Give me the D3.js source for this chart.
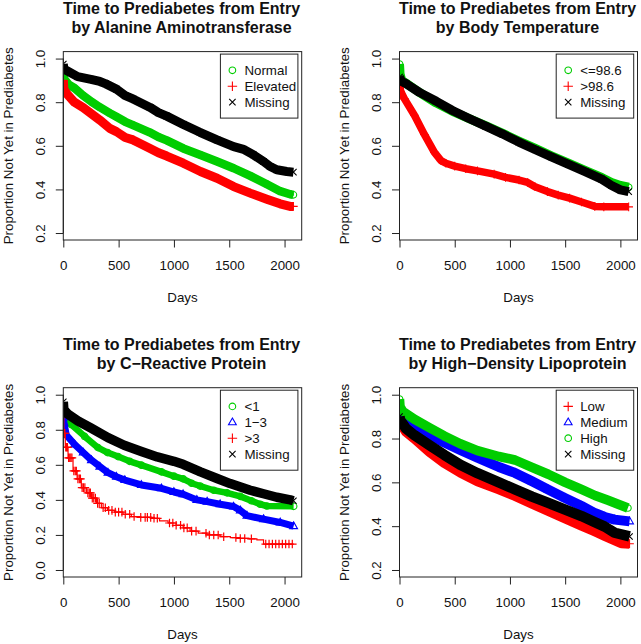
<!DOCTYPE html>
<html><head><meta charset="utf-8">
<script src="https://cdn.jsdelivr.net/npm/d3@7"></script>
<style>
body{margin:0;background:#fff}
svg{display:block}
text{font-family:"Liberation Sans",Arial,Helvetica,sans-serif;fill:#111}
</style>
</head><body>
<svg id="chart" width="641" height="644"></svg>
<script>
// ---------- tick labels ----------
const xTicks = [0, 500, 1000, 1500, 2000];
const yTicksA = [0.2, 0.4, 0.6, 0.8, 1.0];
const yTicksB = [0.0, 0.2, 0.4, 0.6, 0.8, 1.0];
const xLabel = "Days";
const yLabel = "Proportion Not Yet in Prediabetes";

// ---------- categories ----------
const altCats = ["Normal", "Elevated", "Missing"];
const tempCats = ["<=98.6", ">98.6", "Missing"];
const crpCats = ["<1", "1\u22123", ">3", "Missing"];
const hdlCats = ["Low", "Medium", "High", "Missing"];

// ---------- series values: [day, proportion] ----------
const altNormal = [[0,0.93],[10,0.905],[50,0.88],[100,0.865],[180,0.83],[260,0.80],[330,0.777],[420,0.75],[480,0.733],[560,0.71],[630,0.695],[780,0.662],[860,0.64],[935,0.625],[1085,0.588],[1240,0.558],[1390,0.528],[1540,0.497],[1690,0.462],[1840,0.424],[1960,0.392],[2050,0.378],[2080,0.375]];
const altElevated = [[0,0.90],[5,0.86],[30,0.84],[100,0.80],[180,0.775],[330,0.718],[420,0.68],[480,0.665],[560,0.638],[630,0.627],[780,0.589],[860,0.568],[935,0.553],[1085,0.52],[1240,0.482],[1390,0.451],[1540,0.413],[1690,0.383],[1840,0.355],[1960,0.334],[2050,0.322],[2080,0.322]];
const altMissing = [[0,0.975],[5,0.952],[130,0.917],[250,0.905],[330,0.895],[380,0.885],[480,0.86],[560,0.83],[630,0.815],[785,0.776],[860,0.752],[935,0.736],[1085,0.698],[1235,0.662],[1390,0.627],[1540,0.596],[1630,0.584],[1720,0.558],[1810,0.528],[1870,0.505],[1930,0.49],[2020,0.482],[2080,0.479]];

const tempLow = [[0,0.975],[5,0.93],[20,0.9],[60,0.887],[180,0.845],[330,0.797],[480,0.758],[630,0.725],[780,0.692],[930,0.658],[1080,0.622],[1230,0.588],[1380,0.553],[1530,0.52],[1680,0.487],[1830,0.455],[1920,0.432],[2000,0.418],[2075,0.41]];
const tempHigh = [[0,0.885],[10,0.85],[45,0.815],[135,0.74],[225,0.652],[316,0.57],[376,0.532],[420,0.52],[500,0.507],[600,0.495],[706,0.485],[857,0.47],[960,0.455],[1082,0.443],[1160,0.432],[1227,0.412],[1340,0.39],[1437,0.374],[1540,0.36],[1648,0.342],[1768,0.322],[1850,0.32],[2075,0.32]];
const tempMissing = [[0,0.915],[20,0.895],[60,0.885],[180,0.845],[330,0.805],[480,0.762],[630,0.725],[780,0.69],[930,0.655],[1080,0.617],[1230,0.582],[1380,0.548],[1530,0.515],[1680,0.482],[1830,0.447],[1920,0.418],[2000,0.398],[2075,0.39]];

const crpLow = [[0,0.885],[5,0.87],[72,0.83],[193,0.762],[314,0.698],[400,0.67],[495,0.647],[600,0.62],[706,0.598],[887,0.56],[1000,0.535],[1083,0.52],[1160,0.495],[1237,0.479],[1360,0.455],[1480,0.44],[1600,0.42],[1700,0.395],[1780,0.375],[1840,0.365],[2082,0.363]];
const crpMid = [[0,0.87],[5,0.84],[27,0.77],[103,0.716],[180,0.67],[254,0.627],[330,0.59],[404,0.555],[480,0.532],[556,0.513],[706,0.485],[887,0.466],[1000,0.445],[1083,0.432],[1207,0.40],[1300,0.39],[1418,0.375],[1539,0.362],[1600,0.34],[1660,0.31],[1810,0.29],[1961,0.271],[2082,0.25]];
const crpHigh = [[0,0.87],[5,0.78],[18,0.70],[43,0.64],[88,0.565],[125,0.52],[163,0.47],[210,0.44],[254,0.41],[300,0.38],[344,0.355],[400,0.34],[465,0.33],[540,0.318],[615,0.305],[700,0.3],[796,0.295],[870,0.28],[947,0.268],[1020,0.255],[1083,0.24],[1146,0.222],[1220,0.21],[1298,0.2],[1418,0.19],[1510,0.185],[1600,0.18],[1680,0.178],[1750,0.172],[1810,0.148],[2082,0.148]];
const crpHighCensor = [8,14,22,30,38,48,58,68,78,95,108,118,132,145,155,170,182,195,222,235,245,262,275,290,310,325,360,380,410,440,470,500,530,560,600,640,700,740,760,790,820,850,960,990,1020,1060,1090,1120,1160,1200,1290,1320,1360,1400,1450,1560,1600,1640,1700,1830,1860,1890,1920,1950,1980,2010,2040,2070];
const crpMissing = [[0,0.96],[5,0.915],[40,0.89],[133,0.85],[250,0.81],[404,0.755],[550,0.712],[706,0.676],[850,0.645],[1000,0.62],[1083,0.603],[1240,0.56],[1390,0.522],[1509,0.493],[1690,0.455],[1810,0.435],[1930,0.415],[2052,0.40],[2080,0.395]];

const hdlLow = [[0,0.895],[5,0.875],[60,0.83],[135,0.80],[270,0.74],[406,0.688],[550,0.645],[706,0.605],[900,0.568],[1046,0.538],[1200,0.503],[1347,0.47],[1500,0.435],[1648,0.402],[1760,0.378],[1858,0.356],[2008,0.322],[2083,0.32]];
const hdlMid = [[0,0.935],[5,0.915],[60,0.88],[135,0.856],[270,0.818],[406,0.782],[550,0.748],[706,0.713],[900,0.67],[1046,0.643],[1200,0.605],[1347,0.567],[1500,0.528],[1648,0.492],[1760,0.462],[1858,0.442],[1948,0.43],[2083,0.422]];
const hdlHigh = [[0,0.98],[5,0.945],[30,0.924],[135,0.888],[270,0.85],[406,0.812],[550,0.776],[706,0.745],[900,0.718],[1046,0.702],[1200,0.668],[1347,0.637],[1500,0.6],[1648,0.568],[1770,0.54],[1888,0.518],[1980,0.5],[2068,0.483]];
const hdlMissing = [[0,0.9],[5,0.885],[60,0.845],[135,0.815],[270,0.77],[406,0.725],[550,0.68],[706,0.642],[900,0.6],[1046,0.568],[1200,0.535],[1347,0.506],[1500,0.476],[1648,0.446],[1760,0.42],[1858,0.398],[1948,0.37],[2083,0.353]];

// ---------- styling / layout ----------
const GREEN = "#00cd00", RED = "#ff0000", BLUE = "#0000ff", BLACK = "#000000";
const XMAX = 2155;

const panels = [
  { title: ["Time to Prediabetes from Entry", "by Alanine Aminotransferase"],
    box: [63.3, 51.6, 301.7, 240], ydom: [0.168, 1.032], yticks: yTicksA,
    series: [
      { name: altCats[0], data: altNormal, color: GREEN, pch: "circle", band: 8.5 },
      { name: altCats[1], data: altElevated, color: RED, pch: "plus", band: 9 },
      { name: altCats[2], data: altMissing, color: BLACK, pch: "x", band: 9 } ] },
  { title: ["Time to Prediabetes from Entry", "by Body Temperature"],
    box: [399.5, 51.6, 637.5, 240], ydom: [0.168, 1.032], yticks: yTicksA,
    series: [
      { name: tempCats[0], data: tempLow, color: GREEN, pch: "circle", band: 9 },
      { name: tempCats[1], data: tempHigh, color: RED, pch: "plus", band: 7.5 },
      { name: tempCats[2], data: tempMissing, color: BLACK, pch: "x", band: 9 } ] },
  { title: ["Time to Prediabetes from Entry", "by C\u2212Reactive Protein"],
    box: [63.3, 387.7, 301.7, 577], ydom: [-0.04, 1.04], yticks: yTicksB,
    series: [
      { name: crpCats[0], data: crpLow, color: GREEN, pch: "circle", band: 6.5 },
      { name: crpCats[1], data: crpMid, color: BLUE, pch: "triangle", band: 7 },
      { name: crpCats[2], data: crpHigh, color: RED, pch: "plus", band: 0, censor: crpHighCensor },
      { name: crpCats[3], data: crpMissing, color: BLACK, pch: "x", band: 9.5 } ] },
  { title: ["Time to Prediabetes from Entry", "by High\u2212Density Lipoprotein"],
    box: [399.5, 387.7, 637.5, 577], ydom: [0.168, 1.032], yticks: yTicksA,
    series: [
      { name: hdlCats[0], data: hdlLow, color: RED, pch: "plus", band: 10 },
      { name: hdlCats[1], data: hdlMid, color: BLUE, pch: "triangle", band: 10 },
      { name: hdlCats[2], data: hdlHigh, color: GREEN, pch: "circle", band: 9.5 },
      { name: hdlCats[3], data: hdlMissing, color: BLACK, pch: "x", band: 10.5 } ] }
];

function symPath(pch, s) {
  s = s || 1;
  if (pch === "circle") { const r = 3.3*s; return `M${r},0A${r},${r} 0 1,1 ${-r},0A${r},${r} 0 1,1 ${r},0Z`; }
  if (pch === "triangle") { const a = 4.3*s, b = 3.9*s, c = 2.5*s; return `M0,${-a}L${b},${c}L${-b},${c}Z`; }
  if (pch === "plus") { const a = 4.3*s; return `M${-a},0H${a}M0,${-a}V${a}`; }
  const a = 3.2*s; return `M${-a},${-a}L${a},${a}M${-a},${a}L${a},${-a}`;
}

const svg = d3.select("#chart");
svg.append("rect").attr("width", 641).attr("height", 644).attr("fill", "#fff");

panels.forEach((p, pi) => {
  const [L, T, R, B] = p.box;
  const x = d3.scaleLinear().domain([0, XMAX]).range([L, R]);
  const y = d3.scaleLinear().domain(p.ydom).range([B, T]);
  const g = svg.append("g");
  const cx = (L + R) / 2;

  // titles
  g.append("text").attr("x", cx - 1).attr("y", T - 37.5).attr("text-anchor", "middle")
    .style("font-size", "16px").style("font-weight", "bold").text(p.title[0]);
  g.append("text").attr("x", cx - 1).attr("y", T - 18.5).attr("text-anchor", "middle")
    .style("font-size", "16px").style("font-weight", "bold").text(p.title[1]);

  // clip
  const cid = "clip" + pi;
  svg.append("clipPath").attr("id", cid).append("rect")
    .attr("x", L).attr("y", T).attr("width", R - L).attr("height", B - T);
  const plot = g.append("g").attr("clip-path", `url(#${cid})`);

  p.series.forEach(s => {
    if (s.band > 0) {
      const line = d3.line().x(d => x(d[0])).y(d => y(d[1]));
      plot.append("path").attr("d", line(s.data)).attr("fill", "none")
        .attr("stroke", s.color).attr("stroke-width", s.band)
        .attr("stroke-linejoin", "round").attr("stroke-linecap", "butt");
      plot.selectAll(null).data(s.data).enter().append("path")
        .attr("transform", d => `translate(${x(d[0])},${y(d[1])})`)
        .attr("d", symPath(s.pch)).attr("fill", "none").attr("stroke", s.color).attr("stroke-width", 1.1);
    } else {
      const line = d3.line().x(d => x(d[0])).y(d => y(d[1])).curve(d3.curveStepAfter);
      plot.append("path").attr("d", line(s.data)).attr("fill", "none")
        .attr("stroke", s.color).attr("stroke-width", 1.2);
      const bis = d3.bisector(d => d[0]).right;
      const valAt = t => s.data[Math.max(0, bis(s.data, t) - 1)][1];
      const marks = (s.censor || []).map(t => [t, valAt(t)]);
      plot.selectAll(null).data(marks).enter().append("path")
        .attr("transform", d => `translate(${x(d[0])},${y(d[1])})`)
        .attr("d", symPath(s.pch)).attr("fill", "none").attr("stroke", s.color).attr("stroke-width", 1.2);
    }
  });

  // box
  g.append("rect").attr("x", L).attr("y", T).attr("width", R - L).attr("height", B - T)
    .attr("fill", "none").attr("stroke", "#222").attr("stroke-width", 1);

  // x axis
  const xa = g.append("g").attr("transform", `translate(0,${B})`)
    .call(d3.axisBottom(x).tickValues(xTicks).tickSize(7.5).tickSizeOuter(0).tickFormat(d3.format("d")));
  xa.select(".domain").remove();
  xa.selectAll("line").attr("stroke", "#222");
  xa.selectAll("text").attr("dy", null).attr("y", 30).style("font-size", "13.33px")
    .style("font-family", '"Liberation Sans",Arial,sans-serif').attr("fill", "#111");

  // y axis
  const ya = g.append("g").attr("transform", `translate(${L},0)`)
    .call(d3.axisLeft(y).tickValues(p.yticks).tickSize(7.5).tickSizeOuter(0).tickFormat(d3.format(".1f")));
  ya.select(".domain").attr("d", `M0,${y(p.yticks[0])}V${y(p.yticks[p.yticks.length-1])}`).attr("stroke", "#222");
  ya.selectAll("line").attr("stroke", "#222");
  ya.selectAll("text")
    .attr("x", null).attr("dy", null).attr("text-anchor", "middle")
    .attr("transform", "translate(-18.5,0) rotate(-90)")
    .style("font-size", "13.33px").style("font-family", '"Liberation Sans",Arial,sans-serif').attr("fill", "#111");

  // axis titles
  g.append("text").attr("x", cx).attr("y", B + 61.5).attr("text-anchor", "middle")
    .style("font-size", "13.33px").text(xLabel);
  g.append("text").attr("text-anchor", "middle")
    .attr("transform", `translate(${L - 50.3},${(T + B) / 2}) rotate(-90)`)
    .style("font-size", "13.33px").text(yLabel);

  // legend
  const n = p.series.length;
  const lw = 77.5, lh = n * 16 + 16;
  const lx = R - 3.8 - lw, ly = T + 2.5;
  const lg = g.append("g");
  lg.append("rect").attr("x", lx).attr("y", ly).attr("width", lw).attr("height", lh)
    .attr("fill", "#fff").attr("stroke", "#222").attr("stroke-width", 1);
  p.series.forEach((s, i) => {
    const ry = ly + 16.2 + i * 15.9;
    lg.append("path").attr("transform", `translate(${lx + 12},${ry})`)
      .attr("d", symPath(s.pch, s.pch === "plus" ? 1.1 : 1)).attr("fill", "none")
      .attr("stroke", s.color).attr("stroke-width", 1.1);
    lg.append("text").attr("x", lx + 24).attr("y", ry).attr("dy", "0.36em")
      .style("font-size", "13.33px").text(s.name);
  });
});
</script>
</body></html>
